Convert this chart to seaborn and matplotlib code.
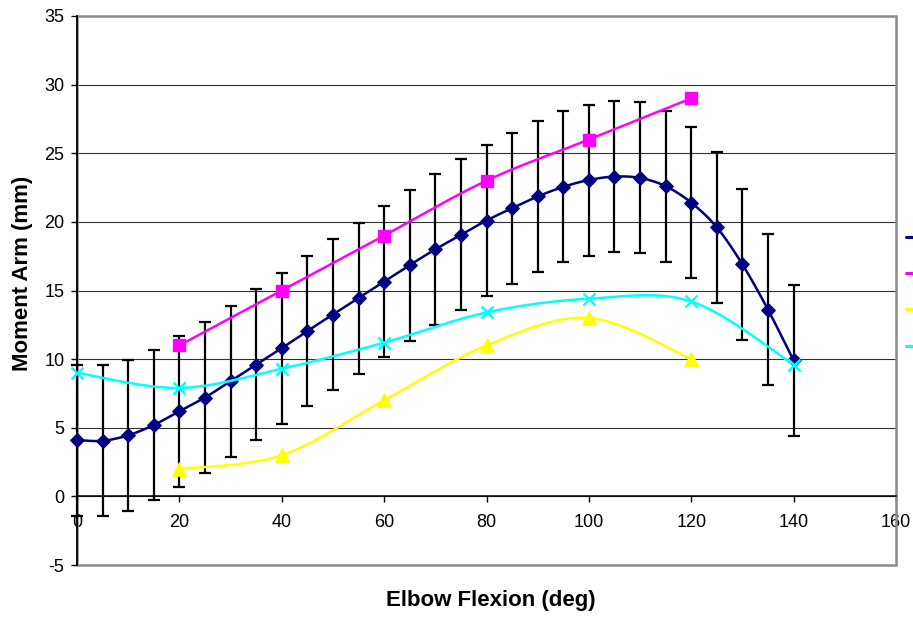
import numpy as np
import matplotlib
matplotlib.use("Agg")
import matplotlib.pyplot as plt
from matplotlib.patches import Rectangle
from matplotlib.lines import Line2D
import seaborn as sns

# ---- data -------------------------------------------------------------
flex_mean_x = [0, 5, 10, 15, 20, 25, 30, 35, 40, 45, 50, 55, 60, 65, 70,
               75, 80, 85, 90, 95, 100, 105, 110, 115, 120, 125, 130, 135, 140]
flex_mean_y = [4.1, 4.05, 4.45, 5.2, 6.2, 7.2, 8.4, 9.6, 10.8, 12.05, 13.25,
               14.45, 15.65, 16.85, 18.0, 19.05, 20.1, 21.0, 21.85, 22.55,
               23.05, 23.3, 23.2, 22.6, 21.4, 19.6, 16.9, 13.6, 9.9]
flex_mean_sd = [5.5, 5.5, 5.5, 5.5, 5.5, 5.5, 5.5, 5.5, 5.5, 5.5, 5.5,
                5.5, 5.5, 5.5, 5.5, 5.5, 5.5, 5.5, 5.5, 5.5, 5.5, 5.5,
                5.5, 5.5, 5.5, 5.5, 5.5, 5.5, 5.5]

model_a_x = [20, 40, 60, 80, 100, 120]
model_a_y = [11, 15, 19, 23, 26, 29]

model_b_x = [20, 40, 60, 80, 100, 120]
model_b_y = [2, 3, 7, 11, 13, 10]

model_c_x = [0, 20, 40, 60, 80, 100, 120, 140]
model_c_y = [9, 7.9, 9.3, 11.2, 13.4, 14.4, 14.2, 9.6]

x_ticks = [0, 20, 40, 60, 80, 100, 120, 140, 160]
y_ticks = [-5, 0, 5, 10, 15, 20, 25, 30, 35]

# ---- style ------------------------------------------------------------
sns.set_theme(style="white")
plt.rcParams["font.family"] = ["Liberation Sans", "DejaVu Sans"]

NAVY, PINK, YELLOW, CYAN = "#000080", "#FF00FF", "#FFFF00", "#00FFFF"


def smooth_curve(x, y, n=24):
    """Cubic Bezier smoothing through every point (spreadsheet-style)."""
    pts = np.column_stack([x, y]).astype(float)
    ext = np.vstack([pts[0], pts, pts[-1]])
    out = [pts[0]]
    t = np.linspace(0, 1, n)[1:, None]
    for i in range(len(pts) - 1):
        p0, p1, p2, p3 = ext[i], ext[i + 1], ext[i + 2], ext[i + 3]
        c1 = p1 + (p2 - p0) / 6.0
        c2 = p2 - (p3 - p1) / 6.0
        seg = ((1 - t) ** 3) * p1 + 3 * ((1 - t) ** 2) * t * c1 \
            + 3 * (1 - t) * (t ** 2) * c2 + (t ** 3) * p2
        out.extend(seg)
    out = np.array(out)
    return out[:, 0], out[:, 1]


W, H = 913, 617
fig = plt.figure(figsize=(W / 100, H / 100), dpi=100)
L, R, T, B = 77, 896, 16, 565
ax = fig.add_axes([L / W, 1 - B / H, (R - L) / W, (B - T) / H])
ax.set_facecolor("white")

# gridlines
ax.set_axisbelow(True)
ax.yaxis.grid(True, color="#303030", linewidth=0.8)
ax.xaxis.grid(False)

# mean curve with SD error bars
eb = ax.errorbar(flex_mean_x, flex_mean_y, yerr=flex_mean_sd, fmt="none",
                 ecolor="black", elinewidth=1.6, capsize=4.4, capthick=1.6,
                 zorder=3)
for art in eb.get_children():
    art.set_clip_on(False)

series = [
    (flex_mean_x, flex_mean_y, NAVY, "D", 6.8),
    (model_a_x, model_a_y, PINK, "s", 8.2),
    (model_b_x, model_b_y, YELLOW, "^", 9.6),
    (model_c_x, model_c_y, CYAN, "x", 8.6),
]

for k, (sx, sy, col, mk, ms) in enumerate(series):
    cx, cy = smooth_curve(sx, sy)
    sns.lineplot(x=cx, y=cy, sort=False, estimator=None, color=col,
                 linewidth=1.8, ax=ax, zorder=4 + k, legend=False)
    if mk == "x":
        sns.scatterplot(x=sx, y=sy, marker="x", color=col, s=ms ** 2,
                        linewidth=1.7, ax=ax, zorder=4.5 + k, legend=False,
                        clip_on=False)
    else:
        sns.scatterplot(x=sx, y=sy, marker=mk, color=col, s=ms ** 2,
                        edgecolor=col, linewidth=1.0, ax=ax, zorder=4.5 + k,
                        legend=False, clip_on=False)

ax.set_xlim(0, 160)
ax.set_ylim(-5, 35)
ax.set_xticks(x_ticks)
ax.set_yticks(y_ticks)
ax.set_xticklabels([str(v) for v in x_ticks])
ax.set_yticklabels([str(v) for v in y_ticks])

# axes frame: grey plot-area border, black value axis, category axis at 0
for side in ["top", "right"]:
    ax.spines[side].set_visible(False)
ax.spines["left"].set_color("black")
ax.spines["left"].set_linewidth(1.3)
ax.spines["left"].set_zorder(3.5)
ax.spines["bottom"].set_position(("data", 0))
ax.spines["bottom"].set_color("black")
ax.spines["bottom"].set_linewidth(1.1)
ax.add_patch(Rectangle((0, 0), 1, 1, transform=ax.transAxes, fill=False,
                       edgecolor="#8c8c8c", linewidth=1.8, zorder=2.5,
                       clip_on=False))

ax.tick_params(axis="x", direction="out", length=4.5, width=1.0,
               color="black", labelsize=13, pad=8, bottom=True,
               labelcolor="black")
ax.tick_params(axis="y", direction="out", length=4.0, width=1.0,
               color="black", labelsize=13, pad=5, left=True,
               labelcolor="black")

ax.set_xlabel("Elbow Flexion (deg)", fontsize=16, fontweight="bold",
              color="black")
ax.set_ylabel("Moment Arm (mm)", fontsize=16, fontweight="bold",
              color="black")
ax.xaxis.set_label_coords(0.5055, -0.045)
ax.yaxis.set_label_coords(-0.054, 0.532)

# legend keys at the right edge (only the key lines fit inside the figure)
handles = [Line2D([], [], color=c, linewidth=2.2) for c in
           (NAVY, PINK, YELLOW, CYAN)]
fig.legend(handles, ["", "", "", ""], loc="upper left",
           bbox_to_anchor=(906 / W, 1 - 230 / H), frameon=False,
           fontsize=13, handlelength=1.7, handletextpad=0.6,
           labelspacing=1.07, borderpad=0, borderaxespad=0)

fig.savefig("out.png", dpi=100, facecolor="white")
